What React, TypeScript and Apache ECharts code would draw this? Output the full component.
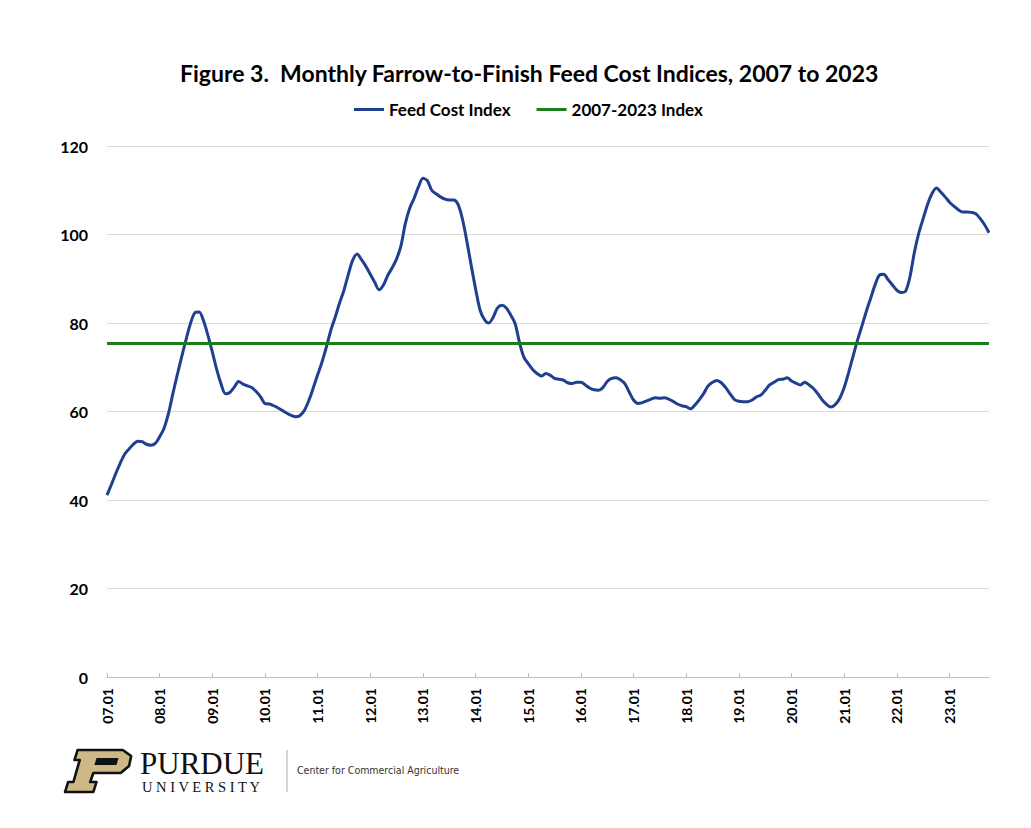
import React, { useEffect, useRef } from "react";
import * as echarts from "echarts";

const TITLE = "Figure 3.  Monthly Farrow-to-Finish Feed Cost Indices, 2007 to 2023";
const SERIES_NAME = "Feed Cost Index";
const AVG_NAME = "2007-2023 Index";
const AVG_INDEX = 75.5;

const START_YEAR = 2007;
const END_YEAR = 2023;
const END_MONTH = 10;

// Monthly feed cost index values, Jan 2007 – Oct 2023
const V2007 = [41.1, 43.5, 46.0, 48.3, 50.3, 51.5, 52.6, 53.3, 53.2, 52.6, 52.4, 52.8];
const V2008 = [54.3, 56.2, 59.5, 64.0, 68.2, 72.3, 76.2, 79.8, 82.3, 82.5, 80.5, 77.2];
const V2009 = [73.5, 69.5, 66.2, 64.0, 64.3, 65.5, 66.8, 66.2, 65.8, 65.4, 64.5, 63.3];
const V2010 = [61.8, 61.7, 61.3, 60.8, 60.2, 59.6, 59.1, 58.8, 59.1, 60.3, 62.5, 65.3];
const V2011 = [68.3, 71.2, 74.6, 78.3, 81.3, 84.5, 87.4, 91.0, 94.2, 95.6, 94.3, 92.8];
const V2012 = [91.0, 89.2, 87.5, 88.6, 90.8, 92.5, 94.5, 97.5, 102.5, 106.0, 108.2, 110.8];
const V2013 = [112.7, 112.2, 110.0, 109.2, 108.5, 108.0, 107.8, 107.8, 106.8, 103.5, 98.5, 93.0];
const V2014 = [87.7, 83.0, 80.8, 80.0, 81.3, 83.4, 84.0, 83.4, 81.8, 79.9, 75.6, 72.3];
const V2015 = [70.8, 69.5, 68.6, 68.0, 68.6, 68.2, 67.5, 67.3, 67.1, 66.5, 66.3, 66.6];
const V2016 = [66.6, 66.0, 65.3, 64.9, 64.8, 65.4, 66.8, 67.5, 67.6, 67.2, 66.3, 64.4];
const V2017 = [62.6, 61.8, 62.0, 62.4, 62.8, 63.1, 63.0, 63.1, 62.8, 62.3, 61.7, 61.3];
const V2018 = [61.1, 60.6, 61.5, 62.7, 64.1, 65.8, 66.6, 67.0, 66.5, 65.4, 64.0, 62.7];
const V2019 = [62.3, 62.2, 62.2, 62.6, 63.3, 63.7, 64.8, 66.0, 66.6, 67.2, 67.3, 67.6];
const V2020 = [66.9, 66.4, 66.0, 66.6, 66.0, 65.2, 64.0, 62.6, 61.6, 61.0, 61.6, 63.0];
const V2021 = [65.4, 68.8, 72.4, 76.0, 79.2, 82.5, 85.5, 88.5, 90.8, 91.0, 89.8, 88.6];
const V2022 = [87.4, 86.9, 87.2, 90.5, 96.0, 100.3, 103.6, 106.8, 109.2, 110.5, 109.6, 108.5];
const V2023 = [107.3, 106.4, 105.6, 105.1, 105.1, 105.0, 104.7, 103.6, 102.2, 100.4];

const VALUES = [
  ...V2007, ...V2008, ...V2009, ...V2010, ...V2011, ...V2012, ...V2013, ...V2014, ...V2015,
  ...V2016, ...V2017, ...V2018, ...V2019, ...V2020, ...V2021, ...V2022, ...V2023,
];

const MONTHS: string[] = [];
for (let y = START_YEAR; y <= END_YEAR; y++) {
  const last = y === END_YEAR ? END_MONTH : 12;
  for (let m = 1; m <= last; m++) {
    MONTHS.push(String(y % 100).padStart(2, "0") + "." + String(m).padStart(2, "0"));
  }
}

const Y_MIN = 0;
const Y_MAX = 120;
const Y_STEP = 20;

const BLUE = "#1f3f8f";
const GREEN = "#1a7f1a";
const FONT = "Lato, 'Open Sans', sans-serif";

export default function App() {
  const ref = useRef<HTMLDivElement>(null);
  useEffect(() => {
    document.body.style.margin = "0";
    const chart = echarts.init(ref.current!, null, { renderer: "svg" });
    const pPoints = [
      [12, 0], [55, 0], [63, 6], [61, 16], [53, 23], [27, 23], [24, 32], [30, 32],
      [27, 42], [0, 42], [3, 32], [8, 32], [14, 10], [9, 10],
    ];
    const counter = [[30, 8], [51, 8], [49, 15], [28, 15]];
    chart.setOption({
      animation: false,
      backgroundColor: "#ffffff",
      title: {
        text: TITLE,
        left: 175,
        top: 56,
        textStyle: { fontFamily: FONT, fontWeight: "bold", fontSize: 23, color: "#000" },
      },
      legend: {
        top: 96,
        left: 349,
        icon: "rect",
        itemWidth: 30,
        itemHeight: 3,
        itemGap: 26,
        textStyle: { fontFamily: FONT, fontWeight: "bold", fontSize: 17, color: "#000" },
        data: [SERIES_NAME, AVG_NAME],
      },
      grid: { left: 107, right: 42, top: 146, bottom: 151, containLabel: false },
      xAxis: {
        type: "category",
        data: MONTHS,
        boundaryGap: false,
        axisLine: { lineStyle: { color: "#bfbfbf", width: 1 } },
        axisTick: { show: true, interval: 11, inside: true, length: 4, lineStyle: { color: "#bfbfbf" } },
        axisLabel: {
          interval: 11,
          rotate: 90,
          margin: 11,
          fontFamily: FONT,
          fontWeight: "bold",
          fontSize: 14,
          color: "#000",
        },
        splitLine: { show: false },
      },
      yAxis: {
        type: "value",
        min: Y_MIN,
        max: Y_MAX,
        interval: Y_STEP,
        axisLine: { show: false },
        axisTick: { show: false },
        axisLabel: { margin: 19, fontFamily: FONT, fontWeight: "bold", fontSize: 16, color: "#000" },
        splitLine: { lineStyle: { color: "#d9d9d9", width: 1 } },
      },
      series: [
        {
          name: SERIES_NAME,
          type: "line",
          data: VALUES,
          smooth: 0.3,
          symbol: "none",
          lineStyle: { color: BLUE, width: 3 },
          itemStyle: { color: BLUE },
          z: 3,
        },
        {
          name: AVG_NAME,
          type: "line",
          data: [],
          symbol: "none",
          lineStyle: { color: GREEN, width: 3 },
          itemStyle: { color: GREEN },
          markLine: {
            silent: true,
            symbol: "none",
            label: { show: false },
            lineStyle: { color: GREEN, width: 3, type: "solid" },
            data: [{ yAxis: AVG_INDEX }],
          },
          z: 2,
        },
      ],
      graphic: [
        {
          type: "group",
          x: 65,
          y: 750,
          scaleX: 1.05,
          children: [
            {
              type: "polygon",
              shape: { points: pPoints },
              style: { fill: "#CEB888", stroke: "#111", lineWidth: 2.5, lineJoin: "round" },
            },
            {
              type: "polygon",
              shape: { points: counter },
              style: { fill: "#111" },
            },
          ],
        },
        {
          type: "text",
          x: 140,
          y: 763,
          style: {
            text: "PURDUE",
            font: "31px 'Liberation Serif', 'DejaVu Serif', serif",
            fill: "#111",
            verticalAlign: "middle",
          },
        },
        {
          type: "text",
          x: 142,
          y: 787,
          style: {
            text: "U N I V E R S I T Y",
            font: "14.5px 'Liberation Serif', 'DejaVu Serif', serif",
            fill: "#111",
            verticalAlign: "middle",
          },
        },
        {
          type: "line",
          shape: { x1: 287, y1: 750, x2: 287, y2: 792 },
          style: { stroke: "#aaaaaa", lineWidth: 1 },
        },
        {
          type: "text",
          x: 297,
          y: 770,
          style: {
            text: "Center for Commercial Agriculture",
            font: "10.5px 'Liberation Sans Narrow', 'DejaVu Sans Condensed', Roboto, sans-serif",
            fill: "#333",
            verticalAlign: "middle",
          },
        },
      ],
    });
    return () => chart.dispose();
  }, []);
  return <div ref={ref} style={{ width: 1031, height: 828 }} />;
}
